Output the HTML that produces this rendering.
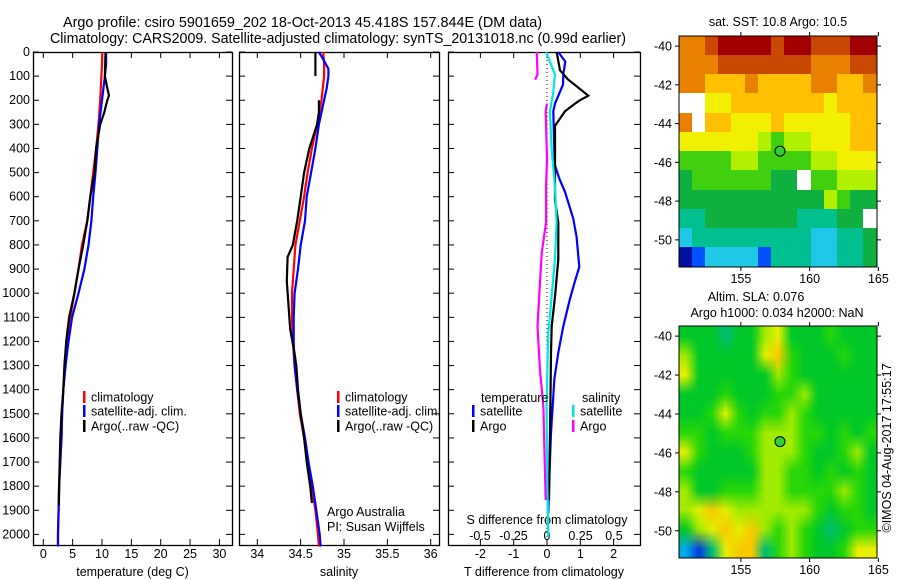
<!DOCTYPE html>
<html><head><meta charset="utf-8"><style>
html,body{margin:0;padding:0;background:#fff;}
svg{display:block;font-family:"Liberation Sans",sans-serif;font-size:12.5px;}
canvas{position:absolute;}
</style></head><body>
<div style="position:relative;width:900px;height:580px;">
<svg id="s" width="900" height="580"></svg>
<canvas id="sst" width="198" height="231" style="left:679px;top:36px;image-rendering:pixelated;"></canvas>
<canvas id="sla" width="198" height="232" style="left:679px;top:326px;"></canvas>
<svg id="ov" width="900" height="580" style="position:absolute;left:0;top:0;font-family:'Liberation Sans',sans-serif;font-size:12.5px;"></svg>
</div>
<script>
// ---- data ----
const depthTicks=[0,100,200,300,400,500,600,700,800,900,1000,1100,1200,1300,1400,1500,1600,1700,1800,1900,2000];
const tempTicks=[0,5,10,15,20,25,30];
const salTicks=[34,34.5,35,35.5,36];
const salTickLabels=["34","34.5","35","35.5","36"];
const tdiffTicks=[-2,-1,0,1,2];
const sdiffTicks=[-0.5,-0.25,0,0.25,0.5];
const stdDepth=[0,50,100,200,300,400,500,600,700,800,900,1000,1100,1200,1300,1400,1500,1600,1700,1800,1900,2000,2050];
const tempClim=[10.05,10.0,9.9,9.7,9.4,9.0,8.5,8.0,7.5,6.6,6.0,5.3,4.6,4.1,3.7,3.4,3.2,3.1,2.9,2.7,2.6,2.5,2.5];
const tempSat=[10.7,10.7,10.5,10.0,9.5,9.2,8.9,8.5,8.2,7.7,7.0,6.0,4.9,4.3,3.8,3.4,3.2,3.1,2.9,2.7,2.6,2.5,2.5];
const argoTDepth=[0,100,150,180,200,250,300,400,500,600,700,800,900,1000,1100,1200,1300,1400,1500,1600,1700,1800,1880];
const argoTemp=[10.6,10.5,10.9,11.2,10.9,10.4,9.7,9.0,8.7,8.0,7.5,6.8,6.0,5.3,4.4,3.9,3.6,3.4,3.1,2.9,2.8,2.7,2.65];
const salClim=[34.76,34.77,34.77,34.74,34.69,34.63,34.58,34.54,34.49,34.44,34.42,34.40,34.40,34.41,34.43,34.46,34.49,34.54,34.58,34.63,34.67,34.70,34.71];
const salSatDepth=[0,30,70,100,150,200,300,400,500,600,700,800,900,1000,1100,1200,1300,1400,1500,1600,1700,1800,1900,2000,2050];
const salSat=[34.71,34.76,34.82,34.82,34.80,34.77,34.71,34.67,34.62,34.57,34.55,34.50,34.47,34.43,34.42,34.42,34.43,34.46,34.50,34.55,34.59,34.64,34.68,34.72,34.73];
const argoSDepth=[0,100,null,200,250,300,400,500,600,700,800,850,950,1050,1150,1250,1300,1400,1500,1600,1700,1800,1870];
const argoSal=[34.67,34.67,null,34.71,34.71,34.69,34.60,34.54,34.50,34.46,34.41,34.35,34.34,34.36,34.38,34.43,34.45,34.47,34.50,34.54,34.57,34.61,34.63];
const satTdDepth=[0,40,92,135,214,246,400,470,525,580,691,768,891,950,1023,1137,1246,1358,1468,1579,1690,1802,1913];
const satTdiff=[0.34,0.55,0.49,0.48,0.24,0.19,0.22,0.24,0.37,0.54,0.79,0.89,0.97,0.84,0.69,0.49,0.34,0.22,0.17,0.12,0.09,0.06,0.04];
const argoTdDepth=[0,76,115,137,181,200,214,246,306,400,553,614,706,860,1014,1137,1246,1358,1579,1782,1858];
const argoTdiff=[0.29,0.39,0.64,0.84,1.24,0.99,0.84,0.54,0.24,0.24,0.24,0.24,0.34,0.34,0.24,0.14,0.12,0.11,0.09,0.07,0.06];
const satSdDepth=[0,92,168,246,400,553,706,860,1014,1167,1321,1474,1782,2013];
const satSdiff=[-0.007,0.059,0.047,0.022,0.034,0.059,0.072,0.059,0.034,0.01,0.002,-0.003,0.002,0.01];
const argoSdDepth=[0,92,115,null,214,246,445,553,706,830,953,1137,1321,1398,1474,1629,1858];
const argoSdiff=[-0.076,-0.071,-0.088,null,0.0,-0.01,0.0,-0.007,-0.007,-0.039,-0.052,-0.071,-0.052,-0.039,-0.027,-0.02,-0.01];
const mapLonTicks=[155,160,165];
const mapLatTicks=[-40,-42,-44,-46,-48,-50];
const argoLon=157.844, argoLat=-45.418;
const sstGrid=[
[9,9,10,11,11,11,11,10,11,11,10,10,10,11,11],
[9,9,9,10,10,10,10,10,10,10,9,9,9,10,10],
[9,9,8,8,8,9,8,8,8,8,9,9,8,8,9],
[-1,-1,7,7,8,8,8,8,8,8,8,7,8,8,8],
[9,-1,8,8,7,7,7,8,7,7,7,7,7,8,8],
[7,7,7,7,7,7,6,5,6,6,7,7,7,8,8],
[5,5,5,5,6,6,5,5,5,5,6,6,7,7,7],
[4,5,5,5,5,5,5,4,4,-1,5,5,6,6,6],
[4,4,4,4,4,4,4,4,4,4,4,6,5,4,4],
[3,3,4,4,4,4,4,4,4,3,3,3,4,4,-1],
[2,3,3,3,3,3,3,3,3,3,2,2,3,3,4],
[0,1,2,2,2,2,1,3,3,3,2,2,3,3,4]];
const slaGrid=[
[3,3,3,2,3,3,5,6,3,3,3,4,3,3,3],
[5,3,3,3,3,3,6,7,4,3,3,3,4,3,3],
[6,3,3,3,3,3,3,5,4,3,3,3,3,3,3],
[3,3,3,4,3,3,3,4,4,5,3,3,3,3,3],
[3,3,4,6,4,3,4,4,5,4,3,3,3,3,3],
[4,4,3,4,4,4,5,5,5,4,4,3,4,3,4],
[6,4,3,3,3,4,5,5,5,4,3,3,4,5,3],
[4,3,3,3,3,3,5,5,4,4,3,4,3,4,3],
[5,3,3,4,4,4,5,5,4,4,4,4,5,4,3],
[5,6,7,6,5,5,5,5,5,5,4,3,4,4,3],
[3,5,6,7,6,7,5,4,5,4,3,2,3,4,4],
[1,0,2,6,7,7,2,4,5,4,3,3,4,6,6]];
</script>
<script>
const NS="http://www.w3.org/2000/svg";
const S=document.getElementById('s');
function mk(parent,tag,at,txt){const e=document.createElementNS(NS,tag);for(const k in at)e.setAttribute(k,at[k]);if(txt!=null)e.textContent=txt;parent.appendChild(e);return e;}
const TOP=52,BOT=545;
const yD=d=>52+d*0.2412;
const xT=v=>43.3+v*5.87;
const xS=v=>257.3+(v-34)*86.7;
const xTd=v=>547+v*33.3;
const xSd=v=>547+v*134;
function txt(p,x,y,s,name,anchor){const t=mk(p,'text',{x:x,y:y,'text-anchor':anchor||'middle'},s);return t;}
// titles
const t1=mk(S,'text',{x:63,y:27,'font-size':'14.3px',textLength:479,lengthAdjust:'spacingAndGlyphs'},"Argo profile: csiro 5901659_202 18-Oct-2013 45.418S 157.844E (DM data)");


const t2=mk(S,'text',{x:50,y:43,'font-size':'14.3px',textLength:576,lengthAdjust:'spacingAndGlyphs'},"Climatology: CARS2009. Satellite-adjusted climatology: synTS_20131018.nc (0.99d earlier)");


function panel(name,x0,x1,xf,ticks,labels,xlab,showY){
  const g=mk(S,'g',{});
  const r=mk(g,'rect',{x:x0+0.5,y:TOP+0.5,width:x1-x0,height:BOT-TOP,fill:'none',stroke:'#000','stroke-width':1.3});
  
  depthTicks.forEach(d=>{const y=yD(d);
    mk(g,'line',{x1:x0,x2:x0+6,y1:y,y2:y,stroke:'#000'});mk(g,'line',{x1:x1-6,x2:x1,y1:y,y2:y,stroke:'#000'});
    if(showY){txt(g,x0-3,y+4,String(d),'y-tick-label','end');}});
  if(ticks){ticks.forEach((v,i)=>{const x=xf(v);
    mk(g,'line',{x1:x,x2:x,y1:TOP,y2:TOP+6,stroke:'#000'});mk(g,'line',{x1:x,x2:x,y1:BOT-6,y2:BOT,stroke:'#000'});
    txt(g,x,558,labels[i],'x-tick-label');});}
  if(xlab)txt(g,(x0+x1)/2,576,xlab,'x-axis-title');
  return g;
}
const g1=panel('temperature-panel',33,232,xT,tempTicks,tempTicks.map(String),'temperature (deg C)',true);
const g2=panel('salinity-panel',239,439,xS,salTicks,salTickLabels,'salinity',false);
const g3=panel('difference-panel',448,640,xTd,tdiffTicks,tdiffTicks.map(String),'T difference from climatology',false);
sdiffTicks.forEach(v=>txt(g3,xSd(v),540,String(v),'s-tick-label'));
txt(g3,547,524,'S difference from climatology','s-axis-title');
mk(g3,'line',{x1:547,x2:547,y1:TOP,y2:BOT,stroke:'#000','stroke-dasharray':'1,3'});
function series(g,xs,ds,xf,color,name,w){
  let segs=[],cur=[];
  for(let i=0;i<xs.length;i++){if(xs[i]==null||ds[i]==null){if(cur.length)segs.push(cur);cur=[];continue;}cur.push([xf(xs[i]),yD(ds[i])]);}
  if(cur.length)segs.push(cur);
  segs.forEach(s=>{const p=mk(g,'polyline',{points:s.map(q=>q[0].toFixed(1)+','+q[1].toFixed(1)).join(' '),fill:'none',stroke:color,'stroke-width':w||2.2});
    });
}
series(g1,tempClim,stdDepth,xT,'#ff0000','temp-climatology-line');
series(g1,tempSat,stdDepth,xT,'#0000ff','temp-satellite-line');
series(g1,argoTemp,argoTDepth,xT,'#000','temp-argo-line');
series(g2,salClim,stdDepth,xS,'#ff0000','sal-climatology-line');
series(g2,salSat,salSatDepth,xS,'#0000ff','sal-satellite-line');
series(g2,argoSal,argoSDepth,xS,'#000','sal-argo-line');
series(g3,satTdiff,satTdDepth,xTd,'#0000ff','tdiff-satellite-line');
series(g3,argoTdiff,argoTdDepth,xTd,'#000','tdiff-argo-line');
series(g3,satSdiff,satSdDepth,xSd,'#00e5e5','sdiff-satellite-line');
series(g3,argoSdiff,argoSdDepth,xSd,'#ff00ff','sdiff-argo-line');
function legend(g,x,y,color,label,name){const l=mk(g,'g',{});
  mk(l,'rect',{x:x,y:y-6,width:2.5,height:12,fill:color});txt(l,x+8,y+4.5,label,'legend-label','start');}
legend(g1,83,397,'#ff0000','climatology','legend-climatology');
legend(g1,83,411,'#0000ff','satellite-adj. clim.','legend-satellite');
legend(g1,83,426,'#000','Argo(..raw -QC)','legend-argo');
legend(g2,337,397,'#ff0000','climatology','legend-climatology');
legend(g2,337,411,'#0000ff','satellite-adj. clim.','legend-satellite');
legend(g2,337,426,'#000','Argo(..raw -QC)','legend-argo');
txt(g2,327,516,'Argo Australia','credit-line-1','start');
txt(g2,327,531,'PI: Susan Wijffels','credit-line-2','start');
txt(g3,481,402,'temperature','legend-temperature-heading','start');
txt(g3,582,402,'salinity','legend-salinity-heading','start');
legend(g3,472,411,'#0000ff','satellite','legend-t-satellite');
legend(g3,472,426,'#000','Argo','legend-t-argo');
legend(g3,572,411,'#00e5e5','satellite','legend-s-satellite');
legend(g3,572,426,'#ff00ff','Argo','legend-s-argo');
// maps
const sstPal=['#0010a0','#0050ff','#20c8e8','#00c090','#10b040','#40d010','#b0f000','#f0f000','#ffc000','#e88000','#c84800','#a00000'];
const slaPal=[[0,60,220],[0,170,230],[0,190,120],[0,200,40],[40,215,10],[160,235,0],[230,240,0],[250,200,0],[250,150,0]];
const LON0=150.5,LON1=164.9,LAT0=-39.48,LAT1=-51.4;
(function(){const c=document.getElementById('sst').getContext('2d');
 const cw=198/sstGrid[0].length,ch=231/sstGrid.length;
 sstGrid.forEach((row,r)=>row.forEach((v,k)=>{c.fillStyle=v<0?'#fff':sstPal[v];c.fillRect(Math.floor(k*cw),Math.floor(r*ch),Math.ceil(cw)+1,Math.ceil(ch)+1);}));
 const sc=document.createElement('canvas');sc.width=slaGrid[0].length;sc.height=slaGrid.length;const sx=sc.getContext('2d');
 const im=sx.createImageData(sc.width,sc.height);
 slaGrid.forEach((row,r)=>row.forEach((v,k)=>{const p=slaPal[v],i=(r*sc.width+k)*4;im.data[i]=p[0];im.data[i+1]=p[1];im.data[i+2]=p[2];im.data[i+3]=255;}));
 sx.putImageData(im,0,0);
 const d=document.getElementById('sla').getContext('2d');d.imageSmoothingEnabled=true;d.drawImage(sc,0,0,198,232);})();
const O=document.getElementById('ov');
function mapFrame(name,top,bot,title){
  const g=mk(O,'g',{});
  const xl=v=>679+(v-LON0)/(LON1-LON0)*198, yl=v=>top+(v-LAT0)/(LAT1-LAT0)*(bot-top);
  mk(g,'rect',{x:679,y:top,width:198,height:bot-top,fill:'none',stroke:'#000'});
  mapLonTicks.forEach(v=>{const x=xl(v);mk(g,'line',{x1:x,x2:x,y1:top-4,y2:top,stroke:'#000'});mk(g,'line',{x1:x,x2:x,y1:bot,y2:bot+4,stroke:'#000'});txt(g,x,bot+16,String(v),'lon-tick-label');});
  mapLatTicks.forEach(v=>{const y=yl(v);mk(g,'line',{x1:675,x2:679,y1:y,y2:y,stroke:'#000'});mk(g,'line',{x1:877,x2:881,y1:y,y2:y,stroke:'#000'});txt(g,672,y+4.5,String(v),'lat-tick-label','end');});
  const c=mk(g,'circle',{cx:xl(argoLon),cy:yl(argoLat),r:5,fill:'#30d030',stroke:'#000'});
  title.forEach((t,i)=>txt(g,t[1],t[2],t[0],'map-title'));
}
mapFrame('sst-map-frame',36,267,[["sat. SST: 10.8 Argo: 10.5",778,26]]);
mapFrame('sla-map-frame',326,558,[["Altim. SLA: 0.076",756,301],["Argo h1000: 0.034 h2000: NaN",777,317]]);
const cr=mk(O,'text',{x:0,y:0,'text-anchor':'middle',transform:'translate(891,448) rotate(-90)'},'©IMOS 04-Aug-2017 17:55:17');

</script>
</body></html>
